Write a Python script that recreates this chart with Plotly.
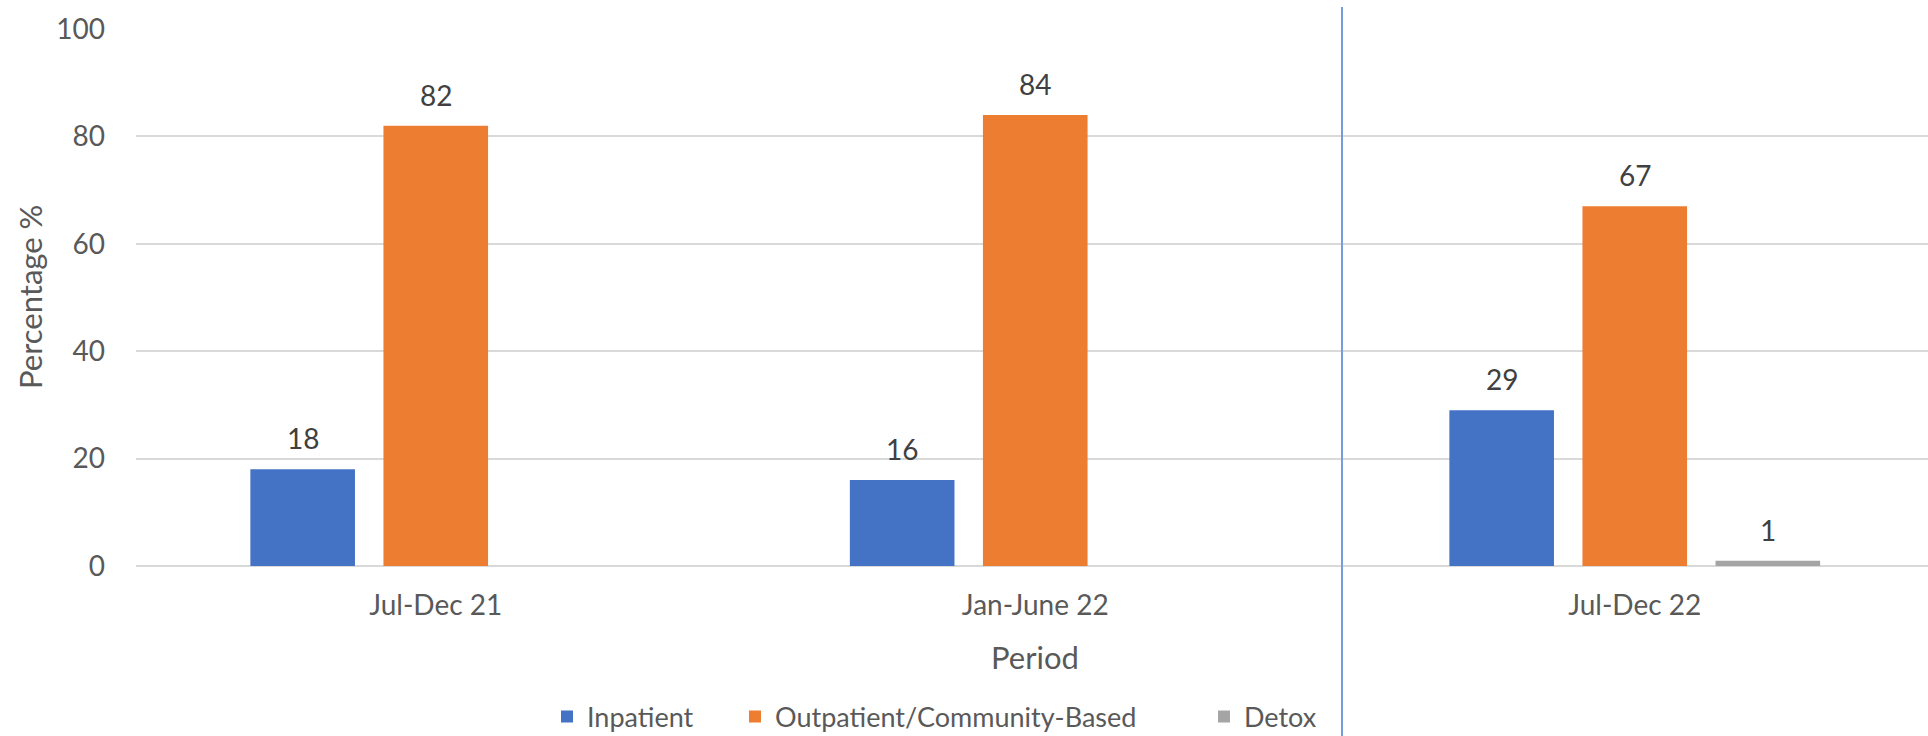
import plotly.graph_objects as go

categories = ["Jul-Dec 21", "Jan-June 22", "Jul-Dec 22"]
inpatient = [18, 16, 29]
outpatient = [82, 84, 67]
detox = [None, None, 1]
series_names = ["Inpatient", "Outpatient/Community-Based", "Detox"]
colors = ["#4472C4", "#ED7D31", "#A5A5A5"]
y_ticks = [0, 20, 40, 60, 80, 100]

W, H = 1928, 736
L, R, T, B = 136, 0, 29, 170
BARGAP = 0.334
BARGROUPGAP = 0.214
FONT = "Lato"

plot_w = W - L - R
plot_h = H - T - B


def fx(px):
    return (px - L) / plot_w


def fy(py):
    return (H - B - py) / plot_h


fig = go.Figure()
series = [inpatient, outpatient, detox]
legend_ids = ["legend", "legend2", "legend3"]
for name, vals, col, lg in zip(series_names, series, colors, legend_ids):
    fig.add_trace(go.Bar(
        x=categories, y=vals, name=name, legend=lg,
        marker=dict(color=col, line=dict(width=0)),
    ))

# data labels above bars
slot = (1 - BARGAP) / len(series)
for j, vals in enumerate(series):
    for i, v in enumerate(vals):
        if v is None:
            continue
        fig.add_annotation(
            x=i + (j - (len(series) - 1) / 2) * slot, y=v,
            xref="x", yref="y", text=str(v), showarrow=False,
            yanchor="bottom", yshift=12,
            font=dict(family=FONT, size=28, color="#404040"),
        )

# axis titles
fig.add_annotation(
    x=fx(1035), y=fy(657), xref="paper", yref="paper",
    text="Period", showarrow=False, xanchor="center", yanchor="middle",
    font=dict(family=FONT, size=31, color="#595959"),
)
fig.add_annotation(
    x=fx(30), y=fy(297), xref="paper", yref="paper",
    text="Percentage %", showarrow=False, textangle=-90,
    xanchor="center", yanchor="middle",
    font=dict(family=FONT, size=31, color="#595959"),
)

# divider line
fig.add_shape(
    type="line", xref="paper", yref="paper",
    x0=fx(1342), x1=fx(1342),
    y0=fy(740), y1=fy(7),
    line=dict(color="#7A9BDA", width=2), layer="above",
)

legend_text_x = [587, 775, 1244]


def legend_cfg(px):
    return dict(
        orientation="h", x=fx(px - 40), xanchor="left",
        y=fy(717), yanchor="middle",
        font=dict(family=FONT, size=27, color="#595959"),
        itemwidth=30, bgcolor="rgba(0,0,0,0)", borderwidth=0,
    )


fig.update_layout(
    width=W, height=H,
    margin=dict(l=L, r=R, t=T, b=B, pad=0, autoexpand=False),
    paper_bgcolor="white", plot_bgcolor="white",
    barmode="group", bargap=BARGAP, bargroupgap=BARGROUPGAP,
    font=dict(family=FONT, size=28, color="#595959"),
    showlegend=True,
    legend=legend_cfg(legend_text_x[0]),
    legend2=legend_cfg(legend_text_x[1]),
    legend3=legend_cfg(legend_text_x[2]),
    xaxis=dict(
        type="category", range=[-0.5, 2.5 - 6.5 / 599],
        showgrid=False, zeroline=False, showline=False,
        ticks="", ticklabelstandoff=20,
        tickfont=dict(family=FONT, size=28, color="#595959"),
        fixedrange=True,
    ),
    yaxis=dict(
        range=[0, 100], tickvals=y_ticks,
        showgrid=True, gridcolor="#D9D9D9", gridwidth=1.5,
        zeroline=True, zerolinecolor="#D9D9D9", zerolinewidth=1.5,
        showline=False, ticks="", ticklabelstandoff=30,
        tickfont=dict(family=FONT, size=28, color="#595959"),
        fixedrange=True,
    ),
)

fig.write_html(
    "out.html",
    config={"displayModeBar": False},
    post_script="document.body.style.margin='0px';",
)
